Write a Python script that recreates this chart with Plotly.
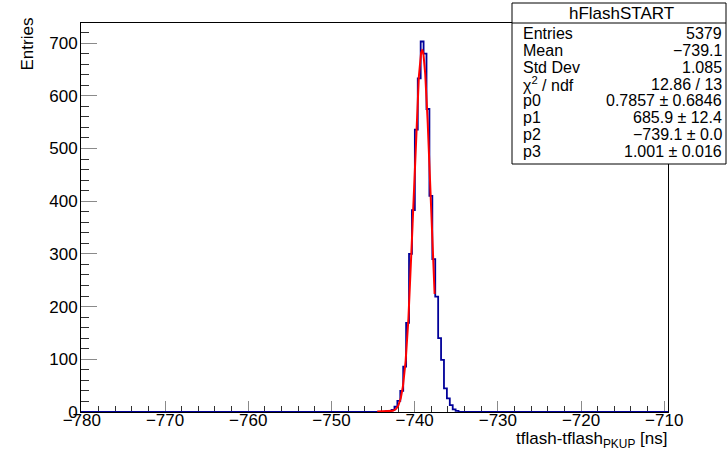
import numpy as np
import plotly.graph_objects as go

# ---- histogram: tflash - tflash_PKUP (ns) ----
X_MIN, X_MAX = -780.1, -709.55          # histogram / axis range
BIN_WIDTH = 0.35
FIRST_EDGE = -743.475                    # low edge of first filled bin
counts = [1, 2, 4, 10, 21, 40, 86, 169, 300, 383, 536, 633,
          703, 680, 575, 410, 290, 219, 140, 99, 45, 26, 13, 5, 2]

# ---- gaus + constant fit ----
fit_params = [0.7857, 685.9, -739.1, 1.001]   # p0, p1, p2, p3
FIT_RANGE = (-744.5, -737.6)

# ---- statistics box ----
stat_title = "hFlashSTART"
stat_names = ["Entries", "Mean", "Std Dev", "χ<sup>2</sup> / ndf",
              "p0", "p1", "p2", "p3"]
stat_values = ["5379", "−739.1", "1.085", "12.86 / 13",
               "0.7857 ± 0.6846", "685.9 ± 12.4", "−739.1 ± 0.0", "1.001 ± 0.016"]

W, H = 728, 451
L, R, T, B = 81, 60, 23, 39
FONT = "Liberation Sans, Arial, Helvetica, sans-serif"


def px(xp):
    return (xp - L) / (W - L - R)


def py(yp):
    return (H - B - yp) / (H - T - B)


# step outline of the histogram, running along zero outside the filled bins
edges = [FIRST_EDGE + i * BIN_WIDTH for i in range(len(counts) + 1)]
hx = [X_MIN] + edges + [X_MAX]
hy = [0] + counts + [0, 0]

p0, p1, p2, p3 = fit_params
fx = np.linspace(FIT_RANGE[0], FIT_RANGE[1], 400)
fy = p0 + p1 * np.exp(-0.5 * ((fx - p2) / p3) ** 2)

fig = go.Figure()
fig.add_trace(go.Scatter(x=hx, y=hy, mode="lines", line_shape="hv",
                         line=dict(color="#000099", width=1.8),
                         hoverinfo="skip", showlegend=False))
fig.add_trace(go.Scatter(x=fx, y=fy, mode="lines",
                         line=dict(color="#ff0000", width=2),
                         hoverinfo="skip", showlegend=False))

ymax = 1.05 * max(counts)

axis_common = dict(showline=True, linecolor="black", linewidth=1, mirror=True,
                   showgrid=False, zeroline=False, ticks="inside", tickwidth=1,
                   tickfont=dict(family=FONT, size=17, color="black"),
                   layer="below traces")

fig.update_xaxes(range=[X_MIN, X_MAX], tick0=-780, dtick=10, ticklen=11,
                 tickcolor="#8a8a8a", ticklabelstandoff=-7,
                 minor=dict(tick0=-780, dtick=2, ticklen=6, ticks="inside",
                            tickcolor="#333333", tickwidth=1),
                 **axis_common)
fig.update_yaxes(range=[0, ymax], tick0=0, dtick=100, ticklen=16,
                 tickcolor="#8a8a8a", ticklabelstandoff=-1,
                 minor=dict(tick0=0, dtick=20, ticklen=8, ticks="inside",
                            tickcolor="#333333", tickwidth=1),
                 **axis_common)

annotations = [
    dict(text="Entries", textangle=-90, xref="paper", yref="paper",
         x=px(27.5), y=py(44), xanchor="center", yanchor="middle",
         showarrow=False, font=dict(family=FONT, size=17, color="black")),
    dict(text="tflash-tflash<sub>PKUP</sub> [ns]", xref="paper", yref="paper",
         x=px(669), y=py(440), xanchor="right", yanchor="middle",
         showarrow=False, font=dict(family=FONT, size=17, color="black")),
]

# statistics box
BOX_L, BOX_R, BOX_T, BOX_B = 512, 726, 3, 164
shapes = [
    dict(type="rect", xref="paper", yref="paper", x0=px(BOX_L), x1=px(BOX_R),
         y0=py(BOX_B), y1=py(BOX_T), line=dict(color="black", width=1),
         fillcolor="white", layer="above"),
    dict(type="line", xref="paper", yref="paper", x0=px(BOX_L), x1=px(BOX_R),
         y0=py(23), y1=py(23), line=dict(color="black", width=1), layer="above"),
]
annotations.append(dict(text=stat_title, xref="paper", yref="paper",
                        x=px((BOX_L + BOX_R) / 2 + 2), y=py(13.5),
                        xanchor="center", yanchor="middle", showarrow=False,
                        font=dict(family=FONT, size=17, color="black")))
row_y0, row_dy = 33.3, 16.9
for i, (name, val) in enumerate(zip(stat_names, stat_values)):
    yy = py(row_y0 + i * row_dy)
    annotations.append(dict(text=name, xref="paper", yref="paper", x=px(521),
                            y=yy, xanchor="left", yanchor="middle",
                            showarrow=False,
                            font=dict(family=FONT, size=16, color="black")))
    annotations.append(dict(text=val, xref="paper", yref="paper", x=px(723.5),
                            y=yy, xanchor="right", yanchor="middle",
                            showarrow=False,
                            font=dict(family=FONT, size=16, color="black")))

fig.update_layout(width=W, height=H, margin=dict(l=L, r=R, t=T, b=B),
                  paper_bgcolor="white", plot_bgcolor="white",
                  annotations=annotations, shapes=shapes,
                  font=dict(family=FONT, color="black"))

fig.write_html("out.html")
